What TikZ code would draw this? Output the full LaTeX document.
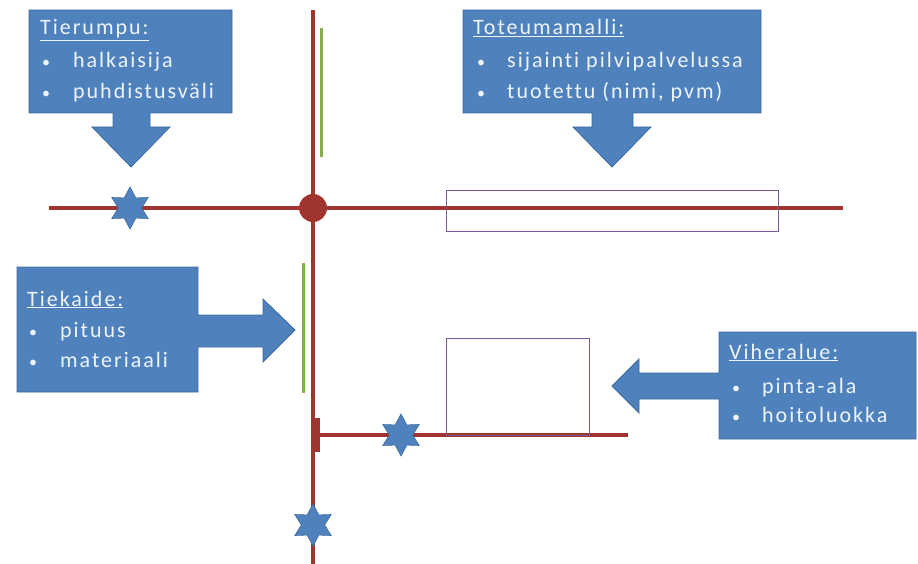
\documentclass[tikz,border=0pt]{standalone}
\usepackage{fontspec}
\setmainfont{Carlito}[LetterSpace=9,Ligatures=NoCommon]
\usetikzlibrary{shapes.geometric}
\definecolor{boxblue}{HTML}{4F81BD}
\definecolor{boxedge}{HTML}{3D6A9E}
\definecolor{road}{HTML}{A0342F}
\definecolor{rail}{HTML}{88AD48}
\definecolor{area}{HTML}{7A5C9E}
\definecolor{txtc}{HTML}{EEF4FB}
\newcommand{\bul}{{\fontsize{16}{20}\selectfont •}}
\tikzset{
  callout/.style={fill=boxblue, draw=boxedge, line width=0.8pt, line join=miter},
  txt/.style={anchor=base west, inner sep=0pt, text=txtc, font=\fontsize{22}{26}\selectfont},
  roadline/.style={draw=road, line width=4pt},
  railline/.style={draw=rail, line width=3pt},
  areabox/.style={draw=area, line width=1.3pt},
  culvert/.style={star, star points=6, star point ratio=1.8, minimum size=42pt, inner sep=0pt, fill=boxblue, draw=boxedge, line width=0.6pt},
}
\begin{document}
\begin{tikzpicture}[x=1pt,y=-1pt]
\useasboundingbox (0,0) rectangle (918,564);
% roads
\coordinate (vtop) at (313,10);
\coordinate (vbot) at (313,564);
\coordinate (hl) at (49,208);
\coordinate (hr) at (843,208);
\coordinate (lj) at (313,435);
\coordinate (le) at (628,435);
\draw[roadline] (vtop) -- (vbot);
\draw[roadline] (hl) -- (hr);
\draw[roadline] (lj) -- (le);
\fill[road] (312,418) rectangle (320,452);
\node[circle, fill=road, minimum size=28pt, inner sep=0pt] (cross) at (313,208) {};
% rails
\draw[railline] (321,28) -- (321,157);
\draw[railline] (303,263) -- (303,393);
% areas
\node[areabox, anchor=north west, minimum width=332pt, minimum height=41pt, inner sep=0pt] (model) at (446,190) {};
\node[areabox, anchor=north west, minimum width=143pt, minimum height=97pt, inner sep=0pt] (green) at (446,338) {};
% stars
\node[culvert] (s1) at (130,208) {};
\node[culvert] (s2) at (401,435) {};
\node[culvert] (s3) at (313,525) {};
% callouts
\draw[callout] (29,10) -- (232,10) -- (232,113) -- (150,113) -- (150,127) -- (170,127) -- (131,167) -- (92,127) -- (113,127) -- (113,113) -- (29,113) -- cycle;
\draw[callout] (463,10) -- (761,10) -- (761,113) -- (633,113) -- (633,127) -- (651,127) -- (612,167) -- (573,127) -- (592,127) -- (592,113) -- (463,113) -- cycle;
\draw[callout] (17,267) -- (198,267) -- (198,315) -- (263,315) -- (263,299) -- (295,330) -- (263,362) -- (263,347) -- (198,347) -- (198,392) -- (17,392) -- cycle;
\draw[callout] (719,332) -- (916,332) -- (916,439) -- (719,439) -- (719,399) -- (639,399) -- (639,413) -- (612,386) -- (639,359) -- (639,373) -- (719,373) -- cycle;
% texts
\node[txt] (t1) at (40,35) {\underline{Tierumpu:}};
\node[txt] (t1a) at (42,68) {\bul};
\node[txt] (t1b) at (73,68) {halkaisija};
\node[txt] (t1c) at (42,99) {\bul};
\node[txt] (t1d) at (73,99) {puhdistusväli};
\node[txt] (t2) at (473,35) {\underline{Toteumamalli:}};
\node[txt] (t2a) at (477,68) {\bul};
\node[txt] (t2b) at (507,68) {sijainti pilvipalvelussa};
\node[txt] (t2c) at (477,99) {\bul};
\node[txt] (t2d) at (507,99) {tuotettu (nimi, pvm)};
\node[txt] (t3) at (27,306) {\underline{Tiekaide:}};
\node[txt] (t3a) at (29,337) {\bul};
\node[txt] (t3b) at (60,337) {pituus};
\node[txt] (t3c) at (29,367) {\bul};
\node[txt] (t3d) at (60,367) {materiaali};
\node[txt] (t4) at (729,359) {\underline{Viheralue:}};
\node[txt] (t4a) at (732,393) {\bul};
\node[txt] (t4b) at (762,393) {pinta-ala};
\node[txt] (t4c) at (732,422) {\bul};
\node[txt] (t4d) at (762,422) {hoitoluokka};
\end{tikzpicture}
\end{document}
